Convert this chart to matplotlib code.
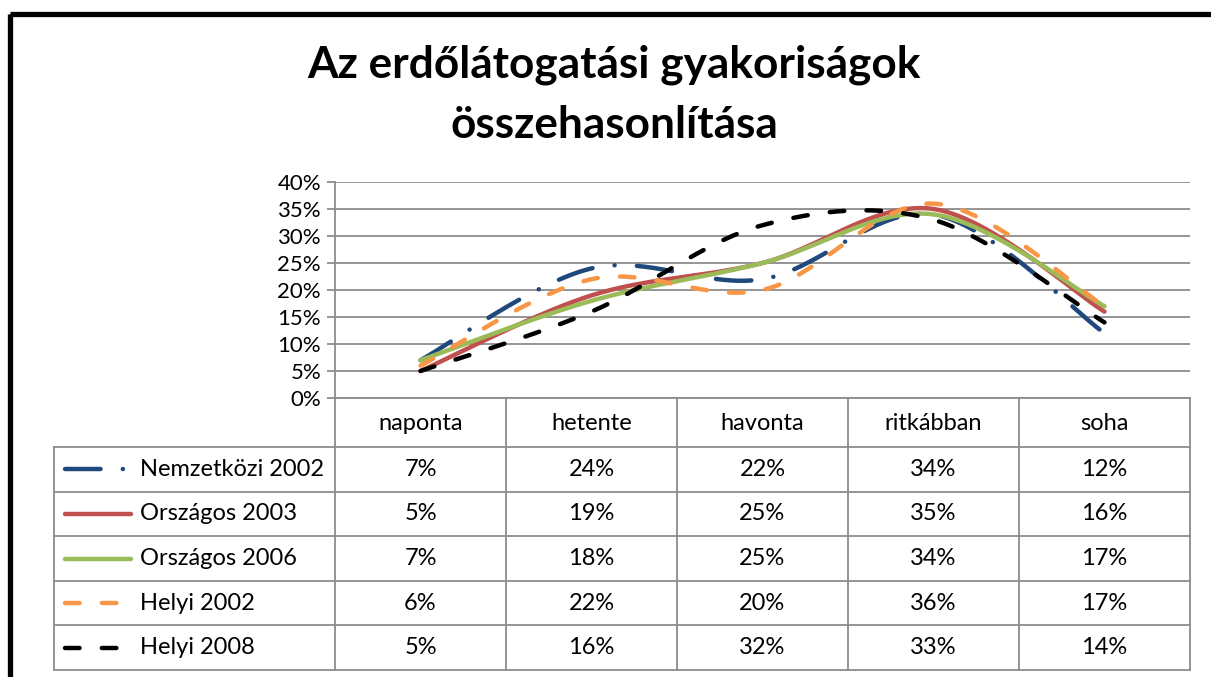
import matplotlib
matplotlib.use('Agg')
import matplotlib.pyplot as plt
import numpy as np
from matplotlib.lines import Line2D
from matplotlib.patches import Rectangle

# ---------------- data ----------------
categories = ['naponta', 'hetente', 'havonta', 'ritkábban', 'soha']
series_names = ['Nemzetközi 2002', 'Országos 2003', 'Országos 2006', 'Helyi 2002', 'Helyi 2008']
nemzetkozi_2002 = [7, 24, 22, 34, 12]
orszagos_2003 = [5, 19, 25, 35, 16]
orszagos_2006 = [7, 18, 25, 34, 17]
helyi_2002 = [6, 22, 20, 36, 17]
helyi_2008 = [5, 16, 32, 33, 14]
y_tick_values = [0, 5, 10, 15, 20, 25, 30, 35, 40]
title_lines = ['Az erdőlátogatási gyakoriságok', 'összehasonlítása']

series_values = [nemzetkozi_2002, orszagos_2003, orszagos_2006, helyi_2002, helyi_2008]

# ---------------- styles ----------------
plt.rcParams['lines.scale_dashes'] = False
FONT = 'Lato'
colors = ['#1F497D', '#C0504D', '#9BBB59', '#F79646', '#000000']
styles = [(0, (25.6, 16, 0.1, 16)), '-', '-', (0, (10.5, 16)), (0, (10.5, 16))]
LW = 3.2
GRID = '#8c8c8c'
TXT = 17
TICK = 16

W, H = 1211, 677
fig = plt.figure(figsize=(W / 100, H / 100), dpi=100)
fig.patch.set_facecolor('white')

# plot area (pixel geometry of the reference)
px_left, px_right, px_top, px_bottom = 335, 1190, 182, 398
ax = fig.add_axes([px_left / W, 1 - px_bottom / H, (px_right - px_left) / W, (px_bottom - px_top) / H])
ax.set_facecolor('none')
ncat = len(categories)
ax.set_xlim(0, ncat)
ax.set_ylim(0, 40)
ax.set_yticks(y_tick_values)
ax.set_yticklabels([f'{v}%' for v in y_tick_values], fontsize=TICK, family=FONT)
ax.set_xticks([])
for s in ['top', 'right', 'bottom']:
    ax.spines[s].set_visible(False)
ax.spines['left'].set_color(GRID)
ax.spines['left'].set_linewidth(1.3)
ax.tick_params(axis='y', length=6, width=1.3, color=GRID, pad=4)
ax.yaxis.grid(True, color=GRID, linewidth=1.3)
ax.set_axisbelow(True)


def smooth_curve(xs, ys, n=40):
    pts = np.column_stack([xs, ys]).astype(float)
    out = []
    m = len(pts)
    for i in range(m - 1):
        p0 = pts[i - 1] if i > 0 else pts[i]
        p1 = pts[i]
        p2 = pts[i + 1]
        p3 = pts[i + 2] if i + 2 < m else pts[i + 1]
        c1 = p1 + (p2 - p0) / 6.0
        c2 = p2 - (p3 - p1) / 6.0
        t = np.linspace(0, 1, n)[:, None]
        seg = ((1 - t) ** 3) * p1 + 3 * ((1 - t) ** 2) * t * c1 + 3 * (1 - t) * t ** 2 * c2 + t ** 3 * p2
        if i > 0:
            seg = seg[1:]
        out.append(seg)
    out = np.vstack(out)
    return out[:, 0], out[:, 1]


xpos = np.arange(ncat) + 0.5
for k, vals in enumerate(series_values):
    sx, sy = smooth_curve(xpos, vals)
    ax.plot(sx, sy, color=colors[k], linestyle=styles[k], linewidth=LW,
            dash_capstyle='round', solid_capstyle='round', zorder=3 + k)

# ---------------- overlay in pixel coordinates: border, title, data table ----------------
ov = fig.add_axes([0, 0, 1, 1], zorder=-1)
ov.set_xlim(0, W)
ov.set_ylim(H, 0)
ov.axis('off')
ov.set_facecolor('none')

# chart border
ov.add_patch(Rectangle((9.5, 13.5), W + 20, H + 20, fill=False, edgecolor='black', linewidth=3.8))

# title
ov.text(614, 65, title_lines[0], ha='center', va='center', fontsize=31.8, fontweight='bold', family=FONT)
ov.text(614, 125, title_lines[1], ha='center', va='center', fontsize=31.8, fontweight='bold', family=FONT)

# table geometry
col_w = (px_right - px_left) / ncat
col_edges = [px_left + i * col_w for i in range(ncat + 1)]
header_bottom = 447
row_edges = [447, 491.6, 536.2, 580.8, 625.4, 670]
legend_left = 54
tlw = 1.3

for xe in col_edges:
    ov.plot([xe, xe], [px_bottom, row_edges[-1]], color=GRID, lw=tlw)
ov.plot([legend_left, legend_left], [row_edges[0], row_edges[-1]], color=GRID, lw=tlw)
ov.plot([px_left, px_right], [px_bottom, px_bottom], color=GRID, lw=tlw)
for ye in row_edges:
    ov.plot([legend_left, px_right], [ye, ye], color=GRID, lw=tlw)

# header
for i, c in enumerate(categories):
    ov.text((col_edges[i] + col_edges[i + 1]) / 2, (px_bottom + header_bottom) / 2 + 1, c,
            ha='center', va='center', fontsize=TXT, family=FONT)

# rows
for r, (name, vals) in enumerate(zip(series_names, series_values)):
    yc = (row_edges[r] + row_edges[r + 1]) / 2
    ov.plot([65, 131], [yc, yc], color=colors[r], linestyle=styles[r], linewidth=LW,
            dash_capstyle='round', solid_capstyle='round')
    ov.text(140, yc, name, ha='left', va='center', fontsize=TXT, family=FONT)
    for i, v in enumerate(vals):
        ov.text((col_edges[i] + col_edges[i + 1]) / 2, yc, f'{v}%', ha='center', va='center',
                fontsize=TXT, family=FONT)

fig.savefig('out.png', dpi=100)
